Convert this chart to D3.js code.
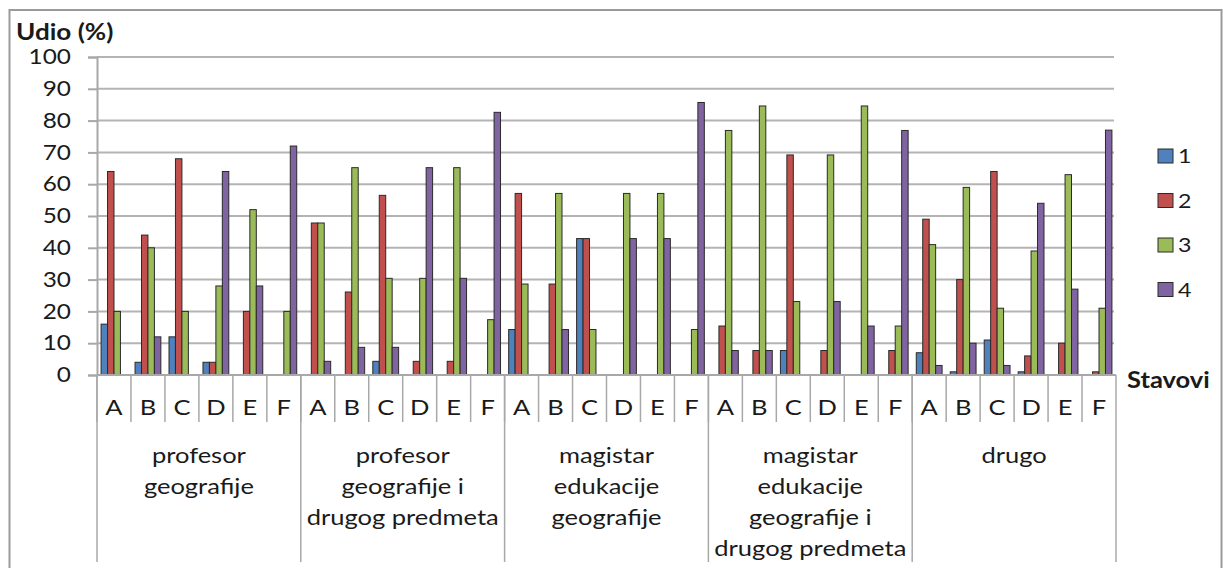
<!DOCTYPE html>
<html>
<head>
<meta charset="utf-8">
<script src="https://cdn.jsdelivr.net/npm/d3@7"></script>
<style>
  html, body { margin: 0; padding: 0; background: #fff; }
  svg { display: block; }
  text { font-family: Lato, "Open Sans", sans-serif; fill: #1a1a1a; }
</style>
</head>
<body>
<svg id="chart" width="1223" height="568"></svg>
<script>
// ---------- data ----------
const groups = [
  "profesor geografije",
  "profesor geografije i drugog predmeta",
  "magistar edukacije geografije",
  "magistar edukacije geografije i drugog predmeta",
  "drugo"
];
const groupLines = [
  ["profesor", "geografije"],
  ["profesor", "geografije i", "drugog predmeta"],
  ["magistar", "edukacije", "geografije"],
  ["magistar", "edukacije", "geografije i", "drugog predmeta"],
  ["drugo"]
];
const statements = ["A", "B", "C", "D", "E", "F"];
const seriesNames = ["1", "2", "3", "4"];
const yTicks = [0, 10, 20, 30, 40, 50, 60, 70, 80, 90, 100];
const yTitle = "Udio (%)";
const xTitle = "Stavovi";

// values per series: 5 groups x 6 statements (A..F)
const s1 = [16, 4, 12, 4, 0, 0,   0, 0, 4.3, 0, 0, 0,   14.3, 0, 42.9, 0, 0, 0,   0, 0, 7.7, 0, 0, 0,   7, 1, 11, 1, 0, 0];
const s2 = [64, 44, 68, 4, 20, 0,   47.8, 26.1, 56.5, 4.3, 4.3, 0,   57.1, 28.6, 42.9, 0, 0, 0,   15.4, 7.7, 69.2, 7.7, 0, 7.7,   49, 30, 64, 6, 10, 1];
const s3 = [20, 40, 20, 28, 52, 20,   47.8, 65.2, 30.4, 30.4, 65.2, 17.4,   28.6, 57.1, 14.3, 57.1, 57.1, 14.3,   76.9, 84.6, 23.1, 69.2, 84.6, 15.4,   41, 59, 21, 39, 63, 21];
const s4 = [0, 12, 0, 64, 28, 72,   4.3, 8.7, 8.7, 65.2, 30.4, 82.6,   0, 14.3, 0, 42.9, 42.9, 85.7,   7.7, 7.7, 0, 23.1, 15.4, 76.9,   3, 10, 3, 54, 27, 77];
const seriesValues = [s1, s2, s3, s4];
const colors = ["#4F81BD", "#C0504D", "#9BBB59", "#8064A2"];

// ---------- layout ----------
const svg = d3.select("#chart");
const M = { left: 97, right: 1116, top: 57, bottom: 375 };
const SX = 1.16; // horizontal stretch of the original text

// frame
svg.append("rect").attr("x", 9.5).attr("y", 10).attr("width", 1212).attr("height", 570)
  .attr("fill", "none").attr("stroke", "#9a9a9a").attr("stroke-width", 2);

const cats = [];
groups.forEach((g, gi) => statements.forEach((s, si) => cats.push({ g, gi, s, si, key: gi + "-" + s })));

const x = d3.scaleBand().domain(cats.map(c => c.key)).range([M.left, M.right]).padding(0);
const xg = d3.scaleBand().domain(groups).range([M.left, M.right]).padding(0);
const xs = d3.scaleBand().domain(seriesNames)
  .range([x.bandwidth() * 0.12, x.bandwidth() * 0.88]).padding(0);
const y = d3.scaleLinear().domain([0, 100]).range([M.bottom, M.top]);

// gridlines
svg.append("g").selectAll("line").data(yTicks).join("line")
  .attr("x1", M.left).attr("x2", M.right - 2)
  .attr("y1", d => y(d)).attr("y2", d => y(d))
  .attr("stroke", "#b4b4b4").attr("stroke-width", 2);

// y axis
const yAxis = svg.append("g").attr("transform", `translate(${M.left},0)`)
  .call(d3.axisLeft(y).tickValues(yTicks).tickSize(9).tickPadding(17));
yAxis.select(".domain").attr("stroke", "#a8a8a8").attr("stroke-width", 2);
yAxis.selectAll(".tick line").attr("stroke", "#a8a8a8").attr("stroke-width", 2);
yAxis.selectAll(".tick text")
  .attr("transform", function () { return `translate(${d3.select(this).attr("x")},0) scale(${SX},1)`; })
  .attr("x", 0)
  .style("font-size", "21px").style("font-family", "Lato, sans-serif").attr("fill", "#1a1a1a");

// y title
svg.append("text").attr("transform", `translate(16,40) scale(${SX},1)`)
  .style("font-size", "22.5px").style("font-weight", "bold").text(yTitle);

// bars
const barData = [];
seriesValues.forEach((arr, si) => arr.forEach((v, ci) => { if (v > 0) barData.push({ si, ci, v }); }));
svg.append("g").selectAll("rect").data(barData).join("rect")
  .attr("x", d => x(cats[d.ci].key) + xs(seriesNames[d.si]))
  .attr("width", xs.bandwidth())
  .attr("y", d => y(d.v))
  .attr("height", d => y(0) - y(d.v))
  .attr("fill", d => colors[d.si])
  .attr("stroke", "#2a2a2a").attr("stroke-width", 1);

// category axis line (bottom)
svg.append("line").attr("x1", M.left).attr("x2", M.right).attr("y1", M.bottom).attr("y2", M.bottom)
  .attr("stroke", "#a8a8a8").attr("stroke-width", 2);

// short separators between statements
svg.append("g").selectAll("line").data(cats).join("line")
  .attr("x1", d => x(d.key)).attr("x2", d => x(d.key))
  .attr("y1", M.bottom).attr("y2", 422)
  .attr("stroke", "#a8a8a8").attr("stroke-width", 1.5);

// long separators between groups
svg.append("g").selectAll("line").data(groups.concat(["__end"])).join("line")
  .attr("x1", d => d === "__end" ? M.right : xg(d)).attr("x2", d => d === "__end" ? M.right : xg(d))
  .attr("y1", M.bottom).attr("y2", 562)
  .attr("stroke", "#a8a8a8").attr("stroke-width", 1.5);

// statement labels
svg.append("g").selectAll("text").data(cats).join("text")
  .attr("transform", d => `translate(${x(d.key) + x.bandwidth() / 2},415) scale(${SX},1)`)
  .attr("text-anchor", "middle").style("font-size", "22px").text(d => d.s);

// group labels
groups.forEach((g, gi) => {
  const t = svg.append("text")
    .attr("transform", `translate(${xg(g) + xg.bandwidth() / 2},463) scale(${SX},1)`)
    .attr("text-anchor", "middle").style("font-size", "22px");
  groupLines[gi].forEach((ln, li) => {
    t.append("tspan").attr("x", 0).attr("y", li * 31).text(ln);
  });
});

// x title
svg.append("text").attr("transform", `translate(1127,388) scale(${SX},1)`)
  .style("font-size", "22px").style("font-weight", "bold").text(xTitle);

// legend
const lg = svg.append("g").selectAll("g").data(seriesNames).join("g")
  .attr("transform", (d, i) => `translate(1158,${149 + i * 44.5})`);
lg.append("rect").attr("width", 15).attr("height", 14)
  .attr("fill", (d, i) => colors[i]).attr("stroke", "#2a2a2a").attr("stroke-width", 1);
lg.append("text").attr("transform", `translate(20,14) scale(${SX},1)`)
  .style("font-size", "20px").text(d => d);
</script>
</body>
</html>
